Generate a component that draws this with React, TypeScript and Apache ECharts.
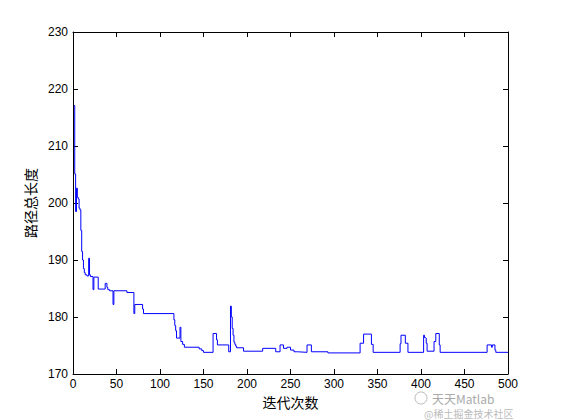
import React, { useEffect, useRef } from "react";
import * as echarts from "echarts";

// change points: [iteration, path length]; value holds until next point
const iterations = [1,2,3,4,5,6,7,8,9,10,11,12,13,14,16,18,19,20,23,24,29,37,39,40,42,46,47,62,70,71,80,81,116,117,118,119,123,124,126,128,145,148,150,161,165,166,179,181,182,183,184,185,186,187,188,196,218,233,238,242,246,250,254,258,269,274,293,330,334,343,345,376,377,382,385,403,404,405,406,407,415,417,421,422,476,481,482,485,486,500];
const lengths = [217.1,205.1,198.5,202.6,201,200.7,199.1,198.8,195.2,191.5,190,188.5,187.8,187.4,187.2,190.3,187.4,187.1,184.8,187,184.9,185.9,185.2,184.8,184.6,182.2,184.6,184.3,180.6,182.2,181.4,180.6,179.5,178.5,177.6,176.3,178.2,175.7,175.2,174.7,174.4,174.1,173.8,177.1,176,175.1,173.9,181.9,180,178,176.8,175.6,175.2,174.9,174.6,174,174.5,173.9,175.1,174.5,174.7,174.2,173.9,173.8,175.1,173.9,173.7,175.4,177,175.2,173.8,175.3,176.8,175.4,173.8,176.8,176.4,176.3,175.4,174,175.7,177.1,175.1,173.8,175.1,174.7,175.1,174.2,173.8,173.8];

const xTicks = { min: 0, max: 500, interval: 50 };
const yTicks = { min: 170, max: 230, interval: 10 };
const xName = "迭代次数";
const yName = "路径总长度";

export default function App() {
  const ref = useRef<HTMLDivElement>(null);
  useEffect(() => {
    if (!ref.current) return;
    const chart = echarts.init(ref.current, undefined, { renderer: "svg" });
    const font = "'Liberation Sans', Arial, sans-serif";
    const cjk = "'Noto Sans CJK SC', sans-serif";
    const axisLine = { show: true, onZero: false, lineStyle: { color: "#000", width: 1 } };
    const tick = { show: true, inside: true, length: 5, lineStyle: { color: "#000" } };
    const data = iterations.map((x, i) => [x, lengths[i]]);
    chart.setOption({
      animation: false,
      backgroundColor: "#fff",
      grid: { left: 73, top: 32, width: 435, height: 342, containLabel: false },
      xAxis: [
        {
          type: "value", ...xTicks, position: "bottom",
          axisLine, axisTick: tick, splitLine: { show: false },
          axisLabel: { color: "#000", fontFamily: font, fontSize: 12, margin: 4, lineHeight: 12 },
          name: xName, nameLocation: "middle", nameGap: 19,
          nameTextStyle: { color: "#000", fontFamily: cjk, fontSize: 14 },
        },
        {
          type: "value", ...xTicks, position: "top",
          axisLine, axisTick: tick, splitLine: { show: false }, axisLabel: { show: false },
        },
      ],
      yAxis: [
        {
          type: "value", ...yTicks, position: "left",
          axisLine, axisTick: tick, splitLine: { show: false },
          axisLabel: { color: "#000", fontFamily: font, fontSize: 12, margin: 5 },
          name: yName, nameLocation: "middle", nameGap: 31, nameRotate: 90,
          nameTextStyle: { color: "#000", fontFamily: cjk, fontSize: 14 },
        },
        {
          type: "value", ...yTicks, position: "right",
          axisLine, axisTick: tick, splitLine: { show: false }, axisLabel: { show: false },
        },
      ],
      series: [
        {
          type: "line", step: "end", data, showSymbol: false, symbol: "none",
          lineStyle: { color: "#0000ff", width: 1 }, xAxisIndex: 0, yAxisIndex: 0,
        },
      ],
      graphic: [
        { type: "circle", shape: { cx: 421, cy: 398, r: 6 }, style: { fill: "none", stroke: "#bbb", lineWidth: 1 } },
        { type: "text", left: 432, top: 392, style: { text: "天天Matlab", fill: "#aaa", fontSize: 12, lineHeight: 12, fontFamily: cjk } },
        { type: "text", left: 424, top: 408, style: { text: "@稀土掘金技术社区", fill: "#bbb", fontSize: 10, lineHeight: 10, fontFamily: cjk } },
      ],
    });
    return () => chart.dispose();
  }, []);
  return <div ref={ref} style={{ position: "fixed", left: 0, top: 0, width: 561, height: 420 }} />;
}
